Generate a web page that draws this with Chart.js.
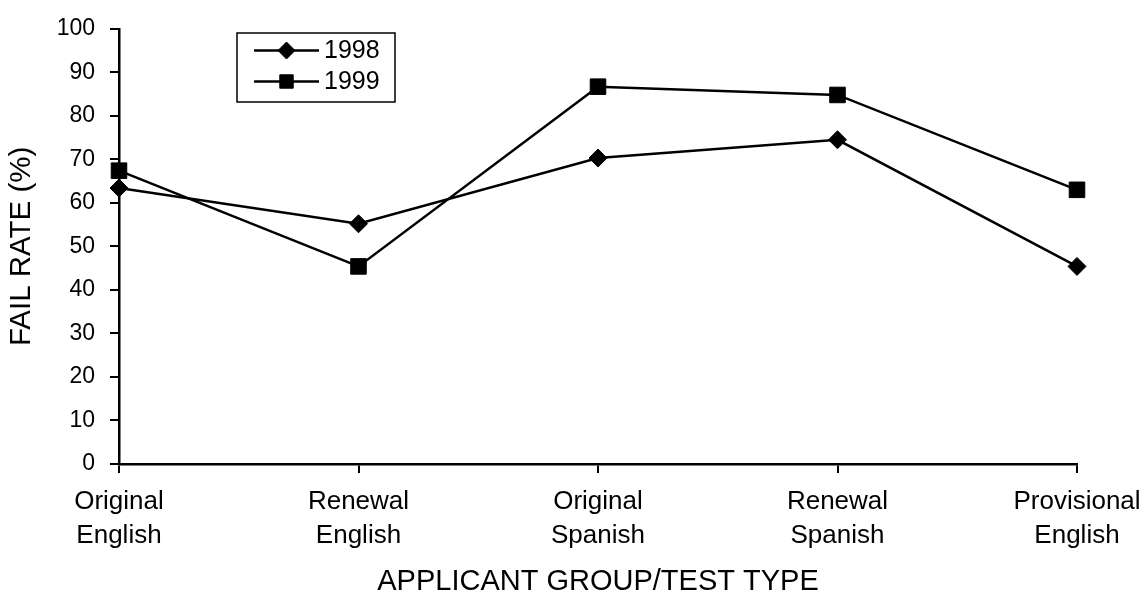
<!DOCTYPE html>
<html>
<head>
<meta charset="utf-8">
<script src="https://cdn.jsdelivr.net/npm/chart.js@4.4.0/dist/chart.umd.min.js"></script>
<style>
  html, body { margin: 0; padding: 0; background: #fff; }
  #wrap { width: 1143px; height: 602px; }
</style>
</head>
<body>
<div id="wrap"><canvas id="chart"></canvas></div>
<script>
const CATEGORIES = [
    ["Original", "English"],
    ["Renewal", "English"],
    ["Original", "Spanish"],
    ["Renewal", "Spanish"],
    ["Provisional", "English"],
];
const SERIES_NAMES = ["1998", "1999"];
const FAIL_1998 = [63.4, 55.2, 70.3, 74.5, 45.4];
const FAIL_1999 = [67.4, 45.4, 86.7, 84.8, 63.0];

const FONT = "'Liberation Sans', Arial, sans-serif";

// legend sits inside the plot, top left, like the original
const boxLegend = {
    id: "boxLegend",
    afterDraw(chart) {
        const ctx = chart.ctx;
        ctx.save();
        ctx.strokeStyle = "#000";
        ctx.lineWidth = 1.5;
        ctx.strokeRect(237, 33, 158, 69);

        chart.data.datasets.forEach((ds, i) => {
            const y = 50.5 + i * 31;
            ctx.lineWidth = 2.5;
            ctx.beginPath();
            ctx.moveTo(254, y);
            ctx.lineTo(319, y);
            ctx.stroke();
            ctx.fillStyle = "#000";
            ctx.lineWidth = 1;
            Chart.helpers.drawPoint(ctx, {
                pointStyle: ds.pointStyle,
                radius: ds.pointStyle === "rect" ? 9.5 : 8.5,
                borderWidth: 1,
                rotation: 0,
            }, 286.5, y);
            ctx.font = "25px " + FONT;
            ctx.textBaseline = "middle";
            ctx.textAlign = "left";
            ctx.fillText(ds.label, 324, y + 1);
        });
        ctx.restore();
    }
};

new Chart(document.getElementById("chart"), {
    type: "line",
    data: {
        labels: CATEGORIES,
        datasets: [
            {
                label: SERIES_NAMES[0],
                data: FAIL_1998,
                borderColor: "#000",
                backgroundColor: "#000",
                borderWidth: 2.5,
                pointStyle: "rectRot",
                pointRadius: 9,
                pointHoverRadius: 9,
                pointBorderWidth: 1,
                tension: 0,
                clip: false,
            },
            {
                label: SERIES_NAMES[1],
                data: FAIL_1999,
                borderColor: "#000",
                backgroundColor: "#000",
                borderWidth: 2.5,
                pointStyle: "rect",
                pointRadius: 11,
                pointHoverRadius: 11,
                pointBorderWidth: 1,
                tension: 0,
                clip: false,
            },
        ]
    },
    plugins: [boxLegend],
    options: {
        responsive: true,
        maintainAspectRatio: false,
        animation: false,
        layout: {
            padding: {left: 0, right: 66, top: 24, bottom: 0}
        },
        plugins: {
            legend: {display: false},
            tooltip: {enabled: false},
        },
        scales: {
            x: {
                afterFit(scale) {
                    scale.height = 138;
                    // labels may hang over the edges, the layout padding handles it
                    scale.paddingLeft = 0;
                    scale.paddingRight = 0;
                },
                grid: {
                    display: true,
                    drawOnChartArea: false,
                    drawTicks: true,
                    tickLength: 9,
                    color: "#000",
                    lineWidth: 2,
                },
                border: {color: "#000", width: 2.5},
                ticks: {
                    color: "#000",
                    padding: 12,
                    maxRotation: 0,
                    autoSkip: false,
                    font: {family: FONT, size: 26, lineHeight: 1.31},
                },
                title: {
                    display: true,
                    text: "APPLICANT GROUP/TEST TYPE",
                    color: "#000",
                    font: {family: FONT, size: 29},
                    padding: {top: 0, bottom: 3},
                }
            },
            y: {
                min: 0,
                max: 100,
                afterFit(scale) {
                    scale.width = 119;
                },
                grid: {
                    display: true,
                    drawOnChartArea: false,
                    drawTicks: true,
                    tickLength: 9,
                    color: "#000",
                    lineWidth: 2,
                },
                border: {color: "#000", width: 2.5},
                ticks: {
                    stepSize: 10,
                    color: "#000",
                    padding: 15,
                    font: {family: FONT, size: 23},
                },
                title: {
                    display: true,
                    text: "FAIL RATE (%)",
                    color: "#000",
                    font: {family: FONT, size: 29.5},
                    padding: {top: 4, bottom: 0},
                }
            }
        }
    }
});
</script>
</body>
</html>
